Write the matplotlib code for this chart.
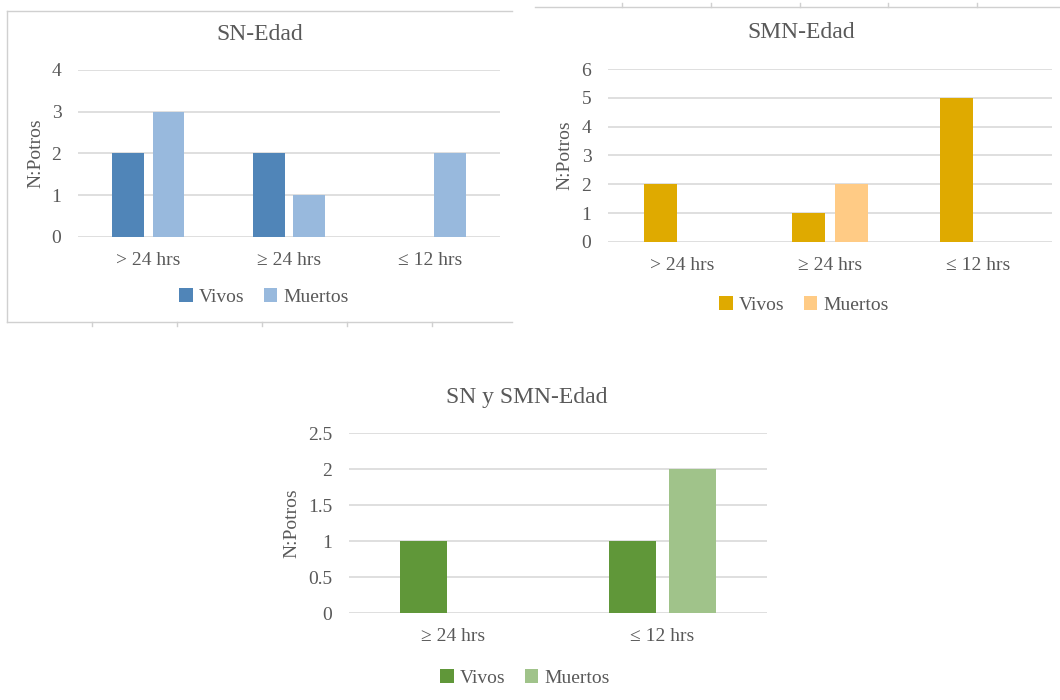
import matplotlib
matplotlib.use("Agg")
import matplotlib.pyplot as plt
from matplotlib.lines import Line2D
import numpy as np

# ---- data ----
cats_sn = ["> 24 hrs", "\u2265 24 hrs", "\u2264 12 hrs"]
sn_vivos = [2, 2, 0]
sn_muertos = [3, 1, 2]

cats_smn = ["> 24 hrs", "\u2265 24 hrs", "\u2264 12 hrs"]
smn_vivos = [2, 1, 5]
smn_muertos = [0, 2, 0]

cats_both = ["\u2265 24 hrs", "\u2264 12 hrs"]
both_vivos = [1, 1]
both_muertos = [0, 2]

series_names = ["Vivos", "Muertos"]

plt.rcParams['font.family'] = ['Liberation Serif', 'DejaVu Serif']
TXT = "#595959"
GRID = "#D9D9D9"

W, H = 1060, 700
fig = plt.figure(figsize=(W / 100, H / 100), dpi=100)


def px_axes(left, right, top, bottom):
    return fig.add_axes([left / W, 1 - bottom / H, (right - left) / W, (bottom - top) / H])


def draw_chart(ax, cats, vivos, muertos, colors, ymax, ystep, title, title_xy,
               legend_xy, ylabel_x, yfmt):
    x = np.arange(len(cats))
    bw = 0.225
    off = 0.143
    ax.bar(x - off, vivos, bw, color=colors[0], linewidth=0, label=series_names[0], zorder=3)
    ax.bar(x + off, muertos, bw, color=colors[1], linewidth=0, label=series_names[1], zorder=3)
    ax.set_xlim(-0.5, len(cats) - 0.5)
    ax.set_ylim(0, ymax)
    ticks = np.arange(0, ymax + ystep / 2, ystep)
    ax.set_yticks(ticks)
    ax.set_yticklabels([yfmt(t) for t in ticks])
    ax.set_xticks(x)
    ax.set_xticklabels(cats)
    for s in ax.spines.values():
        s.set_visible(False)
    ax.grid(axis='y', color=GRID, linewidth=1.2, zorder=0)
    ax.set_axisbelow(True)
    ax.tick_params(axis='both', length=0, labelsize=14, colors=TXT)
    ax.tick_params(axis='y', pad=12)
    ax.tick_params(axis='x', pad=11)
    ax.set_ylabel("N:Potros", fontsize=14, color=TXT)
    ax.yaxis.label.set_va('center')
    ax.yaxis.set_label_coords(ylabel_x, 0.5)
    ax.set_facecolor('none')
    fig.text(title_xy[0] / W, 1 - title_xy[1] / H, title, fontsize=17, color=TXT,
             ha='center', va='center')
    fig.legend(handles=ax.get_legend_handles_labels()[0], labels=series_names,
               loc='center', bbox_to_anchor=(legend_xy[0] / W, 1 - legend_xy[1] / H),
               ncol=2, frameon=False, fontsize=14, handlelength=0.7, handleheight=0.7,
               handletextpad=0.3, columnspacing=1.0, labelcolor=TXT)


def int_fmt(t):
    return f"{t:g}"


ax1 = px_axes(78, 500, 70, 237)
draw_chart(ax1, cats_sn, sn_vivos, sn_muertos, ["#5085B8", "#98B9DD"], 4, 1,
           "SN-Edad", (260, 35), (264, 297), -0.0995, int_fmt)

ax2 = px_axes(608, 1052, 69, 242)
draw_chart(ax2, cats_smn, smn_vivos, smn_muertos, ["#DFAA00", "#FFCB85"], 6, 1,
           "SMN-Edad", (801, 33), (804, 305), -0.097, int_fmt)

ax3 = px_axes(349, 767, 433, 613)
draw_chart(ax3, cats_both, both_vivos, both_muertos, ["#609739", "#A0C38A"], 2.5, 0.5,
           "SN y SMN-Edad", (527, 397), (525, 678), -0.136, int_fmt)


# ---- decorative frame lines (chart containers) ----
def fline(xs, ys, color="#D0D0D0", lw=1.0):
    fig.add_artist(Line2D([x / W for x in xs], [1 - y / H for y in ys],
                          transform=fig.transFigure, color=color, linewidth=lw))


# chart 1 container
fline([7, 512], [11, 11])
fline([7, 7], [11, 322])
fline([7, 512], [322, 322])
for tx in [92, 177, 262, 347, 432]:
    fline([tx, tx], [322, 326])
# chart 2 container top
fline([535, 1060], [7, 7])
for tx in [622, 711, 800, 888, 977]:
    fline([tx, tx], [7, 3])

fig.savefig("out.png", dpi=100, facecolor="white")
